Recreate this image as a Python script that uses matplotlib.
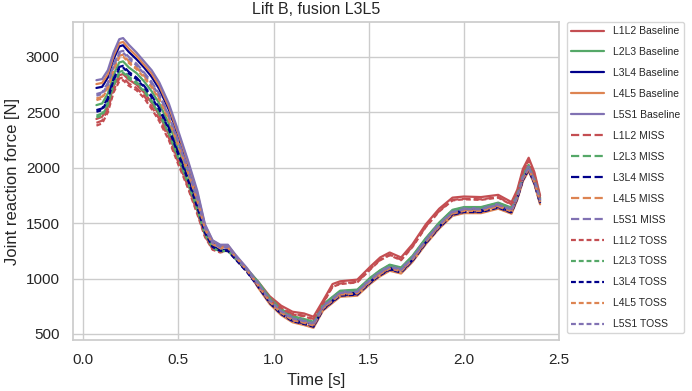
import matplotlib
matplotlib.use("Agg")
import matplotlib.pyplot as plt
import seaborn as sns

sns.set_theme(style="whitegrid")
plt.rcParams['font.family'] = ['Liberation Sans', 'DejaVu Sans']

t = [0.07, 0.10, 0.13, 0.16, 0.19, 0.21, 0.24, 0.28, 0.32, 0.36, 0.40, 0.45, 0.50, 0.55, 0.60,
     0.64, 0.68, 0.72, 0.76, 0.80, 0.86, 0.92, 0.98, 1.04, 1.10, 1.16, 1.21, 1.26, 1.31, 1.35,
     1.44, 1.51, 1.56, 1.61, 1.67, 1.73, 1.80, 1.87, 1.94, 2.00, 2.09, 2.18, 2.25, 2.28, 2.31,
     2.34, 2.37, 2.40]

L1L2_baseline = [2440, 2460, 2555, 2735, 2835, 2845, 2795, 2750, 2680, 2585, 2475, 2300, 2075, 1860, 1610,
                 1395, 1275, 1250, 1260, 1185, 1085, 970, 840, 755, 700, 685, 655, 800, 950, 975,
                 990, 1110, 1190, 1235, 1190, 1310, 1490, 1630, 1730, 1740, 1735, 1755, 1690, 1800, 1990,
                 2090, 1960, 1750]
L2L3_baseline = [2565, 2580, 2670, 2840, 2950, 2960, 2905, 2855, 2780, 2690, 2580, 2400, 2165, 1935, 1675,
                 1430, 1295, 1250, 1260, 1190, 1085, 970, 825, 725, 660, 635, 610, 765, 835, 890,
                 900, 1010, 1075, 1125, 1100, 1205, 1365, 1505, 1620, 1645, 1645, 1685, 1640, 1765, 1935,
                 2025, 1905, 1725]
L3L4_baseline = [2720, 2730, 2815, 2980, 3095, 3105, 3045, 2980, 2905, 2820, 2710, 2525, 2280, 2030, 1755,
                 1470, 1330, 1285, 1280, 1195, 1075, 945, 800, 700, 635, 610, 585, 740, 810, 865,
                 875, 985, 1050, 1100, 1075, 1180, 1340, 1480, 1595, 1620, 1620, 1660, 1615, 1740, 1910,
                 2000, 1880, 1700]
L4L5_baseline = [2755, 2765, 2845, 3010, 3125, 3135, 3075, 3010, 2930, 2850, 2740, 2550, 2305, 2050, 1770,
                 1480, 1340, 1300, 1300, 1210, 1085, 915, 770, 670, 605, 580, 555, 710, 780, 835,
                 845, 955, 1020, 1070, 1045, 1150, 1310, 1450, 1565, 1590, 1590, 1630, 1585, 1710, 1880,
                 1970, 1850, 1670]
L5S1_baseline = [2790, 2800, 2880, 3040, 3160, 3170, 3110, 3040, 2960, 2880, 2770, 2580, 2330, 2070, 1790,
                 1490, 1345, 1305, 1305, 1215, 1095, 960, 815, 715, 650, 625, 600, 755, 825, 880,
                 890, 1000, 1065, 1115, 1090, 1195, 1355, 1495, 1610, 1635, 1635, 1675, 1630, 1755, 1925,
                 2015, 1895, 1715]

L1L2_miss = [2405, 2425, 2525, 2700, 2805, 2815, 2760, 2720, 2650, 2550, 2440, 2270, 2050, 1835, 1595,
             1385, 1265, 1240, 1255, 1180, 1070, 950, 815, 735, 680, 665, 635, 780, 930, 955,
             970, 1090, 1170, 1215, 1170, 1290, 1470, 1610, 1710, 1720, 1715, 1735, 1670, 1780, 1970,
             2070, 1940, 1730]
L2L3_miss = [2470, 2490, 2585, 2760, 2865, 2875, 2820, 2775, 2705, 2605, 2495, 2325, 2095, 1875, 1625,
             1405, 1280, 1245, 1255, 1185, 1080, 965, 820, 720, 655, 630, 605, 760, 830, 885,
             895, 1005, 1070, 1120, 1095, 1200, 1360, 1500, 1615, 1640, 1640, 1680, 1635, 1760, 1930,
             2020, 1900, 1720]
L3L4_miss = [2520, 2535, 2630, 2800, 2910, 2920, 2865, 2815, 2740, 2650, 2540, 2360, 2130, 1905, 1650,
             1420, 1290, 1255, 1255, 1180, 1065, 930, 785, 685, 620, 595, 570, 725, 795, 850,
             860, 970, 1035, 1085, 1060, 1165, 1325, 1465, 1580, 1605, 1605, 1645, 1600, 1725, 1895,
             1985, 1865, 1685]
L4L5_miss = [2625, 2640, 2730, 2895, 3010, 3020, 2960, 2905, 2830, 2740, 2630, 2450, 2210, 1970, 1705,
             1450, 1315, 1280, 1285, 1200, 1080, 940, 795, 695, 630, 605, 580, 735, 805, 860,
             870, 980, 1045, 1095, 1070, 1175, 1335, 1475, 1590, 1615, 1615, 1655, 1610, 1735, 1905,
             1995, 1875, 1695]
L5S1_miss = [2665, 2680, 2765, 2930, 3045, 3055, 3000, 2940, 2860, 2775, 2665, 2480, 2240, 1995, 1725,
             1460, 1325, 1290, 1290, 1205, 1085, 955, 810, 710, 645, 620, 595, 750, 820, 875,
             885, 995, 1060, 1110, 1085, 1190, 1350, 1490, 1605, 1630, 1630, 1670, 1625, 1750, 1920,
             2010, 1890, 1710]

L1L2_toss = [2380, 2400, 2500, 2680, 2780, 2790, 2740, 2700, 2630, 2530, 2420, 2250, 2030, 1820, 1580,
             1375, 1260, 1235, 1250, 1175, 1065, 940, 800, 730, 675, 660, 630, 775, 925, 950,
             965, 1085, 1165, 1210, 1165, 1285, 1465, 1605, 1705, 1715, 1710, 1730, 1665, 1775, 1965,
             2065, 1935, 1725]
L2L3_toss = [2455, 2470, 2570, 2745, 2850, 2860, 2805, 2760, 2690, 2595, 2485, 2310, 2085, 1865, 1620,
             1400, 1275, 1245, 1250, 1180, 1075, 955, 810, 710, 645, 620, 595, 750, 820, 875,
             885, 995, 1060, 1110, 1085, 1190, 1350, 1490, 1605, 1630, 1630, 1670, 1625, 1750, 1920,
             2010, 1890, 1710]
L3L4_toss = [2505, 2520, 2615, 2790, 2895, 2905, 2850, 2800, 2730, 2635, 2525, 2350, 2120, 1895, 1645,
             1415, 1285, 1250, 1250, 1175, 1060, 925, 780, 680, 615, 590, 565, 720, 790, 845,
             855, 965, 1030, 1080, 1055, 1160, 1320, 1460, 1575, 1600, 1600, 1640, 1595, 1720, 1890,
             1980, 1860, 1680]
L4L5_toss = [2610, 2625, 2715, 2880, 2995, 3005, 2945, 2890, 2815, 2725, 2615, 2435, 2200, 1960, 1700,
             1445, 1310, 1275, 1280, 1195, 1075, 935, 790, 690, 625, 600, 575, 730, 800, 855,
             865, 975, 1040, 1090, 1065, 1170, 1330, 1470, 1585, 1610, 1610, 1650, 1605, 1730, 1900,
             1990, 1870, 1690]
L5S1_toss = [2650, 2665, 2750, 2920, 3030, 3040, 2985, 2925, 2850, 2760, 2650, 2470, 2230, 1985, 1720,
             1455, 1320, 1285, 1285, 1200, 1080, 950, 805, 705, 640, 615, 590, 745, 815, 870,
             880, 990, 1055, 1105, 1080, 1185, 1345, 1485, 1600, 1625, 1625, 1665, 1620, 1745, 1915,
             2005, 1885, 1705]

levels = ["L1L2", "L2L3", "L3L4", "L4L5", "L5S1"]
colors = ["#C44E52", "#55A868", "#00008B", "#DD8452", "#8172B3"]
baseline = [L1L2_baseline, L2L3_baseline, L3L4_baseline, L4L5_baseline, L5S1_baseline]
miss = [L1L2_miss, L2L3_miss, L3L4_miss, L4L5_miss, L5S1_miss]
toss = [L1L2_toss, L2L3_toss, L3L4_toss, L4L5_toss, L5S1_toss]

fig = plt.figure(figsize=(6.92, 3.91), dpi=100)
ax = fig.add_axes([0.1055, 0.1304, 0.7025, 0.8133])

lw = 1.6
for lev, c, y in zip(levels, colors, baseline):
    ax.plot(t, y, color=c, lw=lw, ls='-', label=f"{lev} Baseline")
for lev, c, y in zip(levels, colors, miss):
    ax.plot(t, y, color=c, lw=lw, ls='--', label=f"{lev} MISS")
for lev, c, y in zip(levels, colors, toss):
    ax.plot(t, y, color=c, lw=lw, ls=(0, (2.2, 1.3)), label=f"{lev} TOSS")

ax.set_xlim(-0.053, 2.5)
ax.set_ylim(445, 3315)
ax.set_xticks([0.0, 0.5, 1.0, 1.5, 2.0, 2.5])
ax.set_yticks([500, 1000, 1500, 2000, 2500, 3000])
ax.tick_params(labelsize=11, colors='#262626')
ax.set_xlabel("Time [s]", fontsize=12, color='#262626')
ax.set_ylabel("Joint reaction force [N]", fontsize=12, color='#262626')
ax.set_title("Lift B, fusion L3L5", fontsize=11.5, color='#262626')

leg = ax.legend(loc='upper left', bbox_to_anchor=(1.016, 1.0), borderaxespad=0,
                fontsize=7.5, labelspacing=1.05, handlelength=3.2, frameon=True)

fig.savefig("out.png", dpi=100)
